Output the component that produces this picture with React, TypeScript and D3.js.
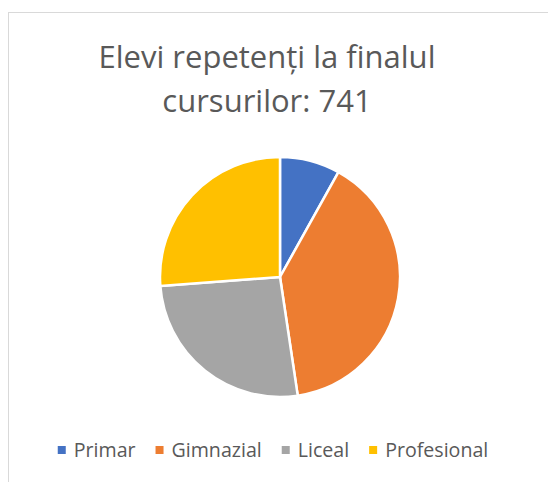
import React, { useEffect, useRef } from "react";
import * as d3 from "d3";

const categories = ["Primar", "Gimnazial", "Liceal", "Profesional"];
const values = [60, 293, 194, 194];
const colors = ["#4472C4", "#ED7D31", "#A5A5A5", "#FFC000"];
const titleLines = ["Elevi repetenți la finalul", "cursurilor: 741"];

const W = 548;
const H = 482;

export default function App() {
  const ref = useRef<SVGSVGElement>(null);

  useEffect(() => {
    const svg = d3.select(ref.current);
    svg.selectAll("*").remove();

    svg.append("rect")
      .attr("x", 8.5).attr("y", 12.5)
      .attr("width", W).attr("height", H)
      .attr("fill", "#fff").attr("stroke", "#d9d9d9").attr("stroke-width", 1);

    const font = "'Open Sans', sans-serif";

    const title = svg.append("text")
      .attr("text-anchor", "middle")
      .attr("font-family", font)
      .attr("font-size", 31)
      .attr("fill", "#595959");
    titleLines.forEach((t, i) => {
      title.append("tspan").attr("x", 267).attr("y", 68 + i * 44).text(t);
    });

    const cx = 280, cy = 277, r = 120;
    const pie = d3.pie<number>().sort(null).value(d => d);
    const arc = d3.arc<d3.PieArcDatum<number>>().innerRadius(0).outerRadius(r);
    const g = svg.append("g").attr("transform", `translate(${cx},${cy})`);
    g.selectAll("path")
      .data(pie(values))
      .join("path")
      .attr("d", arc)
      .attr("fill", (_d, i) => colors[i])
      .attr("stroke", "#fff")
      .attr("stroke-width", 2.5)
      .attr("stroke-linejoin", "round");

    const lg = svg.append("g");
    const items = lg.selectAll("g").data(categories).join("g");
    items.append("rect")
      .attr("width", 8).attr("height", 8)
      .attr("y", -4)
      .attr("fill", (_d, i) => colors[i]);
    const texts = items.append("text")
      .attr("x", 16)
      .attr("dy", "0.35em")
      .attr("font-family", font)
      .attr("font-size", 19.6)
      .attr("fill", "#595959")
      .text(d => d);
    const widths: number[] = [];
    texts.each(function () { widths.push((this as SVGTextElement).getComputedTextLength()); });
    const gap = 20;
    const total = widths.reduce((a, w) => a + 16 + w, 0) + gap * (widths.length - 1);
    let x = 273 - total / 2;
    items.attr("transform", (_d, i) => {
      const t = `translate(${x},450)`;
      x += 16 + widths[i] + gap;
      return t;
    });
  }, []);

  return <svg ref={ref} width={W} height={H} style={{ position: "absolute", left: 0, top: 0 }} />;
}
